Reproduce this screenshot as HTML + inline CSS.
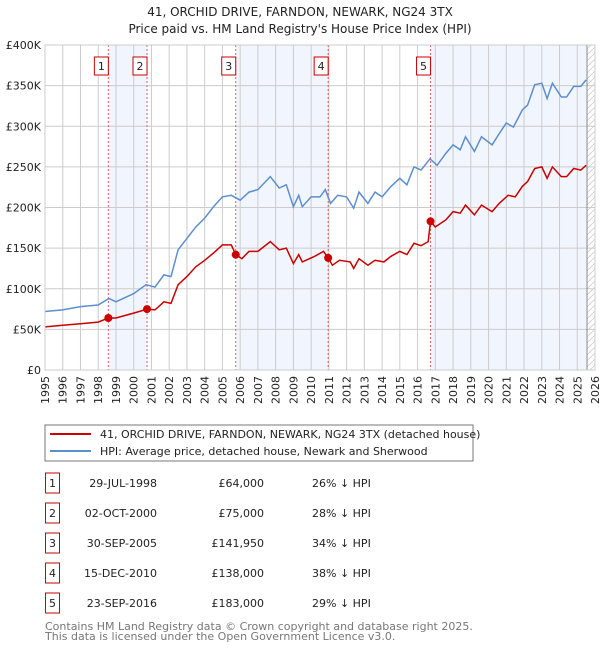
<!DOCTYPE html>
<html><head><meta charset="utf-8"><style>
body{margin:0;background:#fff;font-family:"DejaVu Sans","Liberation Sans",sans-serif;}
#wrap{position:relative;width:600px;height:650px;overflow:hidden}
</style></head><body><div id="wrap">
<svg id="chart" width="600" height="650" xmlns="http://www.w3.org/2000/svg" font-family="DejaVu Sans, Liberation Sans, sans-serif">
<text x="300" y="16" text-anchor="middle" font-size="12" fill="#222">41, ORCHID DRIVE, FARNDON, NEWARK, NG24 3TX</text>
<text x="300" y="33" text-anchor="middle" font-size="12" fill="#222">Price paid vs. HM Land Registry's House Price Index (HPI)</text>
<g id="plot"></g>
<rect x="45" y="425" width="428" height="36" fill="#fff" stroke="#777"/>
<line x1="50" y1="434" x2="91" y2="434" stroke="#cc0000" stroke-width="2"/>
<text x="100" y="438" font-size="11" fill="#222">41, ORCHID DRIVE, FARNDON, NEWARK, NG24 3TX (detached house)</text>
<line x1="50" y1="451" x2="91" y2="451" stroke="#5b8fd0" stroke-width="2"/>
<text x="100" y="455" font-size="11" fill="#222">HPI: Average price, detached house, Newark and Sherwood</text>
<g id="table"></g>
<text x="45" y="630" font-size="11" fill="#777">Contains HM Land Registry data © Crown copyright and database right 2025.</text>
<text x="45" y="640" font-size="11" fill="#777">This data is licensed under the Open Government Licence v3.0.</text>
</svg></div>
<script>
const hpiYears=[1995,1996,1997,1998,1998.6,1999,2000,2000.7,2001.2,2001.7,2002.1,2002.5,2003,2003.5,2004,2004.5,2005,2005.5,2006,2006.5,2007,2007.7,2008.2,2008.6,2009,2009.3,2009.5,2010,2010.5,2010.8,2011.1,2011.5,2012,2012.4,2012.7,2013.2,2013.6,2014,2014.5,2015,2015.4,2015.8,2016.2,2016.7,2017.1,2017.6,2018,2018.4,2018.7,2019.2,2019.6,2020.2,2020.6,2021,2021.4,2021.9,2022.2,2022.6,2023,2023.3,2023.6,2024.1,2024.4,2024.8,2025.2,2025.5];
const hpiValues=[72,74,78,80,88,84,94,105,102,117,115,148,162,176,187,201,213,215,209,219,222,238,224,228,201,215,201,213,213,222,205,215,213,199,219,205,219,213,226,236,228,250,246,260,252,267,277,271,287,269,287,277,291,304,299,320,326,351,353,334,353,336,336,349,349,357];
const propYears=[1995,1996,1997,1998,1998.57,1999,2000,2000.75,2001.2,2001.7,2002.1,2002.5,2003,2003.5,2004,2004.5,2005,2005.5,2005.75,2006.1,2006.5,2007,2007.7,2008.2,2008.6,2009,2009.3,2009.5,2010.2,2010.7,2010.96,2011.2,2011.6,2012.2,2012.4,2012.7,2013.2,2013.6,2014.1,2014.5,2015,2015.4,2015.8,2016.2,2016.6,2016.73,2017,2017.6,2018,2018.4,2018.7,2019.2,2019.6,2020.2,2020.6,2021.1,2021.5,2021.9,2022.2,2022.6,2023,2023.3,2023.6,2024.1,2024.4,2024.8,2025.2,2025.5];
const propValues=[53,55,57,59,64,64,70,75,74,84,82,105,115,127,135,144,154,154,142,137,146,146,158,148,150,131,142,133,140,146,138,129,135,133,125,137,129,135,133,140,146,142,156,153,158,183,176,185,195,193,203,191,203,195,205,215,213,226,232,248,250,236,250,238,238,248,246,252];
const saleLabels=["1","2","3","4","5"];
const saleYears=[1998.57,2000.75,2005.75,2010.96,2016.73];
const saleValues=[64,75,141.95,138,183];
const saleDates=["29-JUL-1998","02-OCT-2000","30-SEP-2005","15-DEC-2010","23-SEP-2016"];
const salePrices=["£64,000","£75,000","£141,950","£138,000","£183,000"];
const saleDiffs=["26% ↓ HPI","28% ↓ HPI","34% ↓ HPI","38% ↓ HPI","29% ↓ HPI"];
const yTicks=[0,50,100,150,200,250,300,350,400];
const yTickLabels=["£0","£50K","£100K","£150K","£200K","£250K","£300K","£350K","£400K"];
const xTicks=[1995,1996,1997,1998,1999,2000,2001,2002,2003,2004,2005,2006,2007,2008,2009,2010,2011,2012,2013,2014,2015,2016,2017,2018,2019,2020,2021,2022,2023,2024,2025,2026];
const dataEnd=2025.55;

const L=45,R=595,T=45,B=370;
const X=y=>L+(y-1995)*(R-L)/31;
const Y=v=>B-v*(B-T)/400;
const NS="http://www.w3.org/2000/svg";
function mk(tag,attrs,parent){const e=document.createElementNS(NS,tag);for(const k in attrs)e.setAttribute(k,attrs[k]);parent.appendChild(e);return e;}
const g=document.getElementById('plot');
// shaded regions
const shadeStarts=[[0,1],[2,3],[4,null]];
shadeStarts.forEach((p,i)=>{const x1=X(saleYears[p[0]]);const x2=p[1]===null?X(dataEnd):X(saleYears[p[1]]);
const r=mk('rect',{x:x1,y:T,width:x2-x1,height:B-T,fill:'#eef3fc',opacity:0.8},g);

});
// hatch
const defs=mk('defs',{},g);
const pat=mk('pattern',{id:'hatch',width:6,height:6,patternUnits:'userSpaceOnUse'},defs);
mk('path',{d:'M0,6 L6,0',stroke:'#ccc','stroke-width':0.8},pat);
const h=mk('rect',{x:X(dataEnd),y:T,width:R-X(dataEnd),height:B-T,fill:'url(#hatch)'},g);


// grid
xTicks.forEach((t,i)=>{const l=mk('line',{x1:X(t),x2:X(t),y1:T,y2:B,stroke:'#ccc','stroke-width':1},g);


const tx=mk('text',{x:0,y:0,transform:`translate(${X(t)+4},${B+6}) rotate(-90)`,'text-anchor':'end','font-size':11,fill:'#222'},g);
tx.textContent=t;

});
yTicks.forEach((t,i)=>{const l=mk('line',{x1:L,x2:R,y1:Y(t),y2:Y(t),stroke:'#ccc','stroke-width':1},g);


const tx=mk('text',{x:L-4,y:Y(t)+4,'text-anchor':'end','font-size':11,fill:'#222'},g);
tx.textContent=yTickLabels[i];

});
const endl=mk('line',{x1:X(dataEnd),x2:X(dataEnd),y1:T,y2:B,stroke:'#888','stroke-width':1},g);


// sale vlines & labels
saleYears.forEach((s,i)=>{const l=mk('line',{x1:X(s),x2:X(s),y1:T,y2:B,stroke:'#e06060','stroke-width':1,'stroke-dasharray':'2,2'},g);


const bx=mk('rect',{x:X(s)-14,y:57,width:14,height:18,fill:'#fff',stroke:'#cc0000','stroke-width':1},g);


const tx=mk('text',{x:X(s)-7,y:70,'text-anchor':'middle','font-size':11,fill:'#222'},g);
tx.textContent=saleLabels[i];

});
const line=(xs,vs)=>xs.map((x,i)=>(i?'L':'M')+X(x).toFixed(1)+','+Y(vs[i]).toFixed(1)).join(' ');
const hp=mk('path',{d:line(hpiYears,hpiValues),fill:'none',stroke:'#5b8fd0','stroke-width':1.5},g);


const pp=mk('path',{d:line(propYears,propValues),fill:'none',stroke:'#cc0000','stroke-width':1.5},g);


saleYears.forEach((s,i)=>{const c=mk('circle',{cx:X(s),cy:Y(saleValues[i]),r:4,fill:'#cc0000'},g);

});
const fr=mk('rect',{x:L,y:T,width:R-L,height:B-T,fill:'none',stroke:'#ccc'},g);


// table
const tb=document.getElementById('table');
saleLabels.forEach((s,i)=>{const y=483+i*30;
const b=mk('rect',{x:45.5,y:y-10,width:14,height:20,fill:'#fff',stroke:'#cc0000'},tb);


const cells=[[52.5,'middle',s],[157,'end',saleDates[i]],[264,'end',salePrices[i]],[312,'start',saleDiffs[i]]];
cells.forEach((c,j)=>{const t=mk('text',{x:c[0],y:y+4,'text-anchor':c[1],'font-size':11,fill:'#222'},tb);
t.textContent=c[2];

});});
</script></body></html>
